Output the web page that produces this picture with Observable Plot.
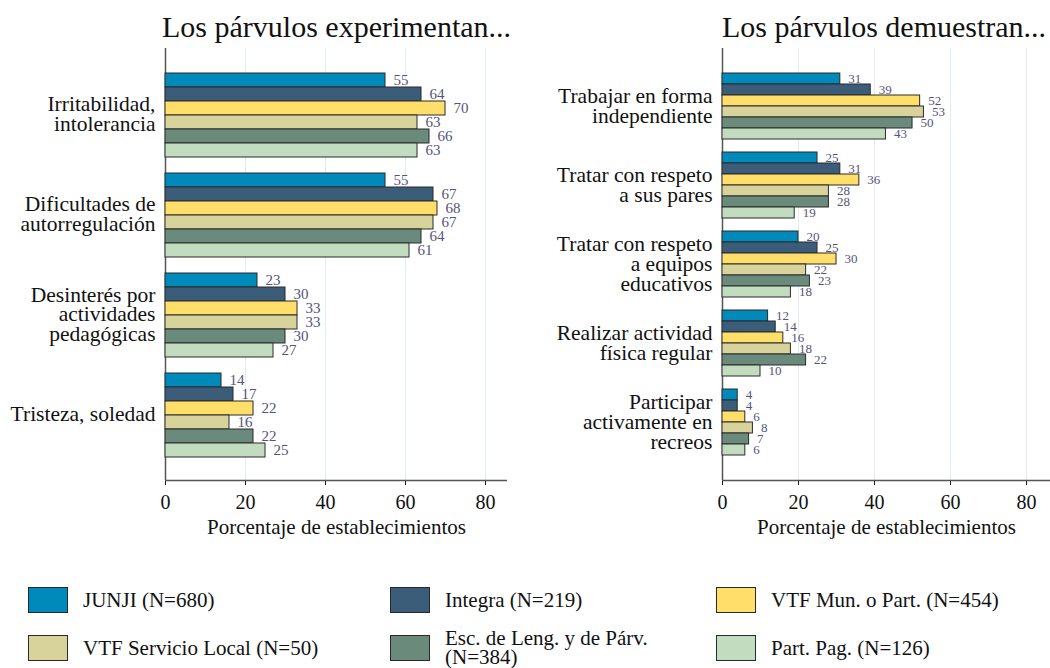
<!DOCTYPE html>
<html>
<head>
<meta charset="utf-8">
<script src="https://cdn.jsdelivr.net/npm/d3@7"></script>
<script src="https://cdn.jsdelivr.net/npm/@observablehq/plot@0.6"></script>
<style>
  html, body { margin: 0; padding: 0; background: #fff; }
  #root { position: relative; width: 1050px; height: 668px; overflow: hidden; font-family: "Liberation Serif", serif; color: #111; }
  .title { position: absolute; font-family: "Liberation Serif", serif; font-size: 30px; line-height: 1.2; white-space: nowrap; color: #111; }
  .layer { position: absolute; top: 0; }
  .leg { position: absolute; display: flex; align-items: center; font-family: "Liberation Serif", serif; font-size: 21px; line-height: 1.0; white-space: nowrap; color: #111; }
  .sw { border: 1.5px solid #2a2a2a; box-sizing: border-box; margin-right: 15px; flex: none; }
</style>
</head>
<body>
<div id="root"></div>
<script>
// ---- data ----
const series = ["JUNJI (N=680)", "Integra (N=219)", "VTF Mun. o Part. (N=454)", "VTF Servicio Local (N=50)", "Esc. de Leng. y de Párv. (N=384)", "Part. Pag. (N=126)"];
const seriesColors = ["#0089bb", "#3b5d7a", "#ffdf6a", "#d8d39b", "#6a8a7b", "#c2dcc0"];

const leftTitle = "Los párvulos experimentan...";
const leftCategories = ["Irritabilidad,\nintolerancia", "Dificultades de\nautorregulación", "Desinterés por\nactividades\npedagógicas", "Tristeza, soledad"];
const leftValues = [
  [55, 64, 70, 63, 66, 63],
  [55, 67, 68, 67, 64, 61],
  [23, 30, 33, 33, 30, 27],
  [14, 17, 22, 16, 22, 25]
];

const rightTitle = "Los párvulos demuestran...";
const rightCategories = ["Trabajar en forma\nindependiente", "Tratar con respeto\na sus pares", "Tratar con respeto\na equipos\neducativos", "Realizar actividad\nfísica regular", "Participar\nactivamente en\nrecreos"];
const rightValues = [
  [31, 39, 52, 53, 50, 43],
  [25, 31, 36, 28, 28, 19],
  [20, 25, 30, 22, 23, 18],
  [12, 14, 16, 18, 22, 10],
  [4, 4, 6, 8, 7, 6]
];

const xTicks = [0, 20, 40, 60, 80];
const xLabel = "Porcentaje de establecimientos";

// ---- build ----
const root = document.getElementById("root");
const STYLE = 'font-family: "Liberation Serif", serif; font-size: 20px; color: #111; background: transparent; overflow: visible;';

function table(categories, values) {
  const rows = [];
  categories.forEach((c, i) => series.forEach((s, j) => rows.push({category: c, series: s, value: values[i][j]})));
  return rows;
}

function panel({categories, values, left, width, marginLeft, marginRight, xmax, paddingInner, paddingOuter, title, titleLeft, labelSize}) {
  const H = 545, MT = 48, MB = 65;
  const data = table(categories, values);

  const base = Plot.plot({
    width, height: H, marginTop: MT, marginBottom: MB, marginLeft, marginRight,
    style: STYLE,
    x: {domain: [0, xmax], ticks: xTicks, tickSize: 5, tickPadding: 9, label: null},
    y: {domain: [0, 1], axis: null},
    marks: [
      Plot.ruleX(xTicks.filter(d => d > 0), {stroke: "#e3ebf2", strokeWidth: 1}),
      Plot.ruleX([0], {stroke: "#555", strokeWidth: 1.5}),
      Plot.ruleY([0], {stroke: "#555", strokeWidth: 1.5}),
      Plot.text([xLabel], {frameAnchor: "bottom", lineAnchor: "middle", dy: 47, fontSize: 21, fill: "#111"})
    ]
  });

  const bars = Plot.plot({
    width, height: H, marginTop: MT, marginBottom: MB, marginLeft, marginRight,
    style: STYLE,
    x: {domain: [0, xmax], axis: null},
    y: {domain: series, padding: 0, axis: null},
    fy: {domain: categories, paddingInner, paddingOuter, axis: null},
    color: {domain: series, range: seriesColors},
    marks: [
      Plot.axisFy({anchor: "left", tickSize: 0, tickPadding: 10, label: null, fontSize: 21.5, lineHeight: 0.92, fill: "#111"}),
      Plot.barX(data, {x: "value", y: "series", fy: "category", fill: "series", stroke: "#2a2a2a", strokeWidth: 1}),
      Plot.text(data, {x: "value", y: "series", fy: "category", text: d => String(d.value), dx: 8, textAnchor: "start", fill: "#55537a", fontSize: labelSize})
    ]
  });

  for (const svg of [base, bars]) {
    svg.classList.add("layer");
    svg.style.left = left + "px";
    root.appendChild(svg);
  }
  const t = document.createElement("div");
  t.className = "title";
  t.textContent = title;
  t.style.left = titleLeft + "px";
  t.style.top = "9px";
  root.appendChild(t);
}

panel({categories: leftCategories, values: leftValues, left: 0, width: 510, marginLeft: 165, marginRight: 3, xmax: 85.5,
       paddingInner: 0.15, paddingOuter: 0.235, title: leftTitle, titleLeft: 162, labelSize: 15});
panel({categories: rightCategories, values: rightValues, left: 520, width: 530, marginLeft: 202, marginRight: 0, xmax: 86.3,
       paddingInner: 0.14, paddingOuter: 0.304, title: rightTitle, titleLeft: 722, labelSize: 13});

// ---- legend ----
const legCols = [28, 390, 716];
const legRows = [600, 648];
series.forEach((s, i) => {
  const d = document.createElement("div");
  d.className = "leg";
  d.style.left = legCols[i % 3] + "px";
  d.style.top = (legRows[Math.floor(i / 3)] - 13) + "px";
  d.style.height = "26px";
  const sw = document.createElement("div");
  sw.className = "sw";
  sw.style.background = seriesColors[i];
  sw.style.height = "26px";
  sw.style.width = "40px";
  const tx = document.createElement("div");
  if (s.startsWith("Esc.")) {
    tx.innerHTML = "Esc. de Leng. y de Párv.<br>(N=384)";
    tx.style.lineHeight = "0.9";
  } else {
    tx.textContent = s;
  }
  d.appendChild(sw);
  d.appendChild(tx);
  root.appendChild(d);
});
</script>
</body>
</html>
